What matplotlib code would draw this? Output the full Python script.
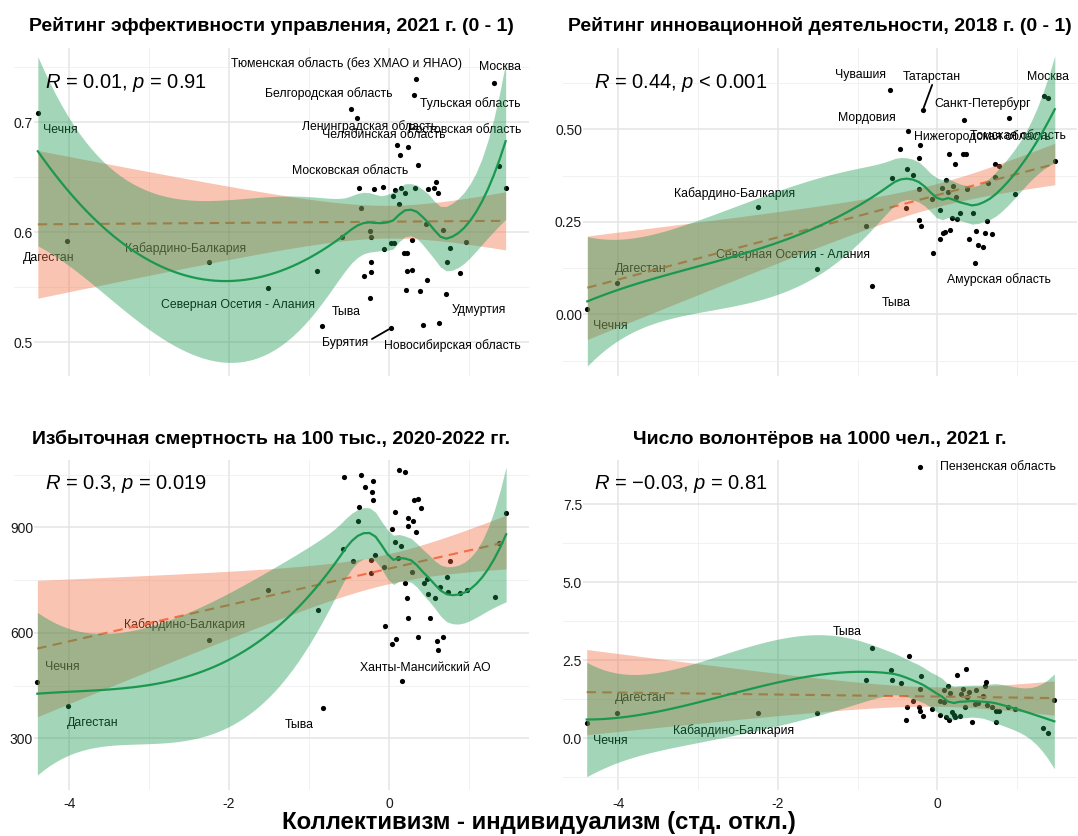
import numpy as np
import matplotlib
matplotlib.use("Agg")
import matplotlib.pyplot as plt
from matplotlib.ticker import FixedLocator, FixedFormatter

plt.rcParams['font.family'] = ['Liberation Sans', 'DejaVu Sans']
plt.rcParams['mathtext.fontset'] = 'custom'
plt.rcParams['mathtext.rm'] = 'Liberation Sans'
plt.rcParams['mathtext.it'] = 'Liberation Sans:italic'

# ---------------- data ----------------
titles = ["Рейтинг эффективности управления, 2021 г. (0 - 1)",
          "Рейтинг инновационной деятельности, 2018 г. (0 - 1)",
          "Избыточная смертность на 100 тыс., 2020-2022 гг.",
          "Число волонтёров на 1000 чел., 2021 г."]
stat_texts = ["$R$ = 0.01, $p$ = 0.91",
              "$R$ = 0.44, $p$ < 0.001",
              "$R$ = 0.3, $p$ = 0.019",
              "$R$ = \u22120.03, $p$ = 0.81"]
x_label = "Коллективизм - индивидуализм (стд. откл.)"

x_gov = [-4.392, -4.021, -2.25, -1.513, 0.343, 0.314, 1.318, -0.475, -0.398, 0.097, 0.233, 0.14,
         0.36, 1.377, 1.458, -0.381, -0.19, -0.076, 0.076, 0.148, 0.195, 0.33, 0.49, 0.564, 0.589,
         0.606, 0.055, 0.119, -0.356, 0.466, 0.669, -0.242, -0.22, -0.589, 0.292, 0.025, 0.059,
         0.966, -0.059, 0.767, 0.186, 0.229, -0.22, 0.72, -0.898, -0.229, 0.229, 0.284, 0.881,
         -0.318, 0.479, 0.212, 0.39, 0.712, -0.233, -0.835, 0.025, 0.428, 0.623]
y_gov = [0.708, 0.592, 0.573, 0.549, 0.7395, 0.7247, 0.7355, 0.7117, 0.7039, 0.6789, 0.6777, 0.6699,
         0.6608, 0.6599, 0.6404, 0.6404, 0.6389, 0.641, 0.6383, 0.6404, 0.6361, 0.6404, 0.6392,
         0.6404, 0.6458, 0.6361, 0.6328, 0.6259, 0.6223, 0.6078, 0.6021, 0.6009, 0.5961, 0.5955,
         0.5931, 0.5907, 0.5901, 0.5916, 0.5852, 0.5861, 0.5813, 0.5813, 0.5726, 0.5726, 0.5651,
         0.5642, 0.5645, 0.5654, 0.5633, 0.5602, 0.5563, 0.5479, 0.5464, 0.5443, 0.5404, 0.5145,
         0.513, 0.5154, 0.5172]

x_inn = [-4.385, -4.008, -2.244, -1.508, -0.894, -0.815, -0.587, -0.183, 0.34, 0.894, 1.332, 1.391,
         -0.362, -0.217, -0.468, -0.234, 0.149, 0.319, 0.353, 0.226, 0.723, 0.774, 1.472, -0.383,
         -0.306, -0.57, 0.111, 0.728, -0.226, 0.064, 0.2, 0.132, 0.366, 0.63, 0.234, -0.064, 0.979,
         -0.391, 0.034, 0.289, 0.443, 0.187, 0.243, -0.234, -0.209, 0.617, 0.485, 0.6, 0.681, 0.077,
         0.098, 0.157, 0.034, 0.391, 0.506, 0.57, -0.06, 0.472]
y_inn = [0.0135, 0.0856, 0.2892, 0.1216, 0.2383, 0.0773, 0.607, 0.5513, 0.526, 0.5306, 0.589, 0.5845,
         0.4946, 0.4586, 0.4469, 0.4236, 0.4344, 0.4326, 0.4326, 0.4065, 0.4065, 0.4002, 0.4137,
         0.3921, 0.3777, 0.3687, 0.3633, 0.3714, 0.3381, 0.3417, 0.3462, 0.33, 0.3381, 0.3552,
         0.3174, 0.3129, 0.3246, 0.286, 0.2806, 0.2734, 0.2734, 0.2608, 0.2563, 0.2536, 0.2383,
         0.2527, 0.2248, 0.2203, 0.2167, 0.2194, 0.2221, 0.2266, 0.2041, 0.2032, 0.1871, 0.1826,
         0.1646, 0.1385]

x_mort = [-4.398, -4.013, -2.249, -1.514, -0.822, 0.126, 0.197, -0.565, -0.351, -0.205, -0.305,
          -0.213, -0.205, 0.318, 0.368, 0.397, -0.372, 0.071, 0.243, 0.297, 0.234, -0.389, 0.042,
          0.339, 0.079, 0.151, -0.577, -0.172, -0.456, -0.23, 0.113, 0.766, -0.063, -0.222, 0.293,
          1.372, 1.464, 0.205, 0.435, 0.469, 0.72, 0.636, 0.485, 0.569, 0.732, 0.891, 0.971, 1.326,
          0.226, -0.883, 0.243, 0.506, -0.054, 0.356, 0.678, 0.088, 0.033, 0.598, 0.611, 0.163]
y_mort = [459, 393, 580, 723, 386, 1062, 1056, 1042, 1049, 1033, 1016, 1001, 978, 977, 980, 954,
          958, 944, 926, 917, 903, 917, 896, 887, 858, 848, 837, 820, 803, 808, 812, 804, 788, 770,
          772, 856, 942, 743, 743, 753, 759, 730, 711, 698, 715, 712, 723, 703, 698, 664, 641, 643,
          619, 589, 588, 582, 568, 577, 551, 462]

x_vol = [-0.211, -4.393, -4.014, -2.248, -1.512, -0.824, -0.349, 0.361, 0.244, -0.58, -0.206, -0.891,
         -0.563, -0.458, 0.613, 0.601, 0.13, -0.223, 0.084, 0.324, 0.487, 0.16, 0.298, 0.403, 0.567,
         0.378, -0.307, 0.029, 0.08, 0.471, 0.508, 0.626, 0.689, -0.374, -0.231, 0.345, 0.891, 0.971,
         1.466, -0.063, -0.214, 0.735, 0.773, 0.185, -0.176, 0.038, 0.206, 0.29, 0.113, 0.227, 0.151,
         -0.387, 0.437, 0.731, 1.324, 1.382]
y_vol = [8.707, 0.481, 0.801, 0.801, 0.823, 2.904, 2.638, 2.223, 2.021, 2.18, 1.989, 1.872, 1.862,
         1.787, 1.819, 1.691, 1.681, 1.596, 1.564, 1.585, 1.553, 1.457, 1.426, 1.489, 1.362, 1.309,
         1.191, 1.191, 1.149, 1.106, 1.117, 1.074, 0.989, 0.989, 0.989, 0.989, 0.989, 0.936, 1.223,
         0.936, 0.883, 0.883, 0.862, 0.851, 0.713, 0.745, 0.745, 0.713, 0.681, 0.67, 0.585, 0.574,
         0.521, 0.511, 0.34, 0.16]

# region labels: (name, label x, label y) in data units
labels_gov = [("Тюменская область (без ХМАО и ЯНАО)", -0.532, 0.7538), ("Москва", 1.387, 0.750),
              ("Белгородская область", -0.75, 0.726), ("Тульская область", 1.016, 0.7169),
              ("Ленинградская область", -0.249, 0.6964), ("Челябинская область", -0.061, 0.6882),
              ("Ростовская область", 0.951, 0.6927), ("Московская область", -0.488, 0.6559),
              ("Чечня", -4.108, 0.6927), ("Дагестан", -4.26, 0.5764),
              ("Кабардино-Балкария", -2.547, 0.5855), ("Северная Осетия - Алания", -1.884, 0.5335),
              ("Тыва", -0.532, 0.5275), ("Бурятия", -0.554, 0.4994),
              ("Новосибирская область", 0.798, 0.4973), ("Удмуртия", 1.125, 0.5296)]
labels_inn = [("Чувашия", -0.962, 0.6468), ("Татарстан", -0.065, 0.6423), ("Москва", 1.386, 0.6423),
              ("Санкт-Петербург", 0.572, 0.5703), ("Мордовия", -0.888, 0.5315),
              ("Нижегородская область", 0.566, 0.481), ("Томская область", 1.01, 0.481),
              ("Кабардино-Балкария", -2.543, 0.327), ("Северная Осетия - Алания", -1.807, 0.1604),
              ("Дагестан", -3.717, 0.1234), ("Чечня", -4.094, -0.0306), ("Тыва", -0.52, 0.0315),
              ("Амурская область", 0.767, 0.0928)]
labels_mort = [("Кабардино-Балкария", -2.56, 624), ("Чечня", -4.086, 502), ("Дагестан", -3.71, 344),
               ("Тыва", -1.124, 337), ("Ханты-Мансийский АО", 0.454, 501)]
labels_vol = [("Пензенская область", 0.756, 8.707), ("Тыва", -1.128, 3.397),
              ("Дагестан", -3.712, 1.282), ("Кабардино-Балкария", -2.558, 0.246),
              ("Чечня", -4.091, -0.085)]
# leader segments: (start x, start y, index of the point)
leaders_gov = [(-0.214, 0.503, 56)]
leaders_inn = [(-0.065, 0.62, 7)]

y_ticks = [[0.5, 0.6, 0.7], [0.0, 0.25, 0.5], [300, 600, 900], [0.0, 2.5, 5.0, 7.5]]
y_ticklabels = [["0.5", "0.6", "0.7"], ["0.00", "0.25", "0.50"], ["300", "600", "900"],
                ["0.0", "2.5", "5.0", "7.5"]]
y_minor = [[0.55, 0.65, 0.75], [-0.125, 0.125, 0.375, 0.625], [450, 750, 1050],
           [-1.25, 1.25, 3.75, 6.25]]
x_ticks = [-4, -2, 0]
x_ticklabels = ["-4", "-2", "0"]
x_minor = [-3, -1, 1]

# ---------------- statistics ----------------
def t975(df):
    z = 1.959963985
    g1 = (z**3 + z) / 4
    g2 = (5*z**5 + 16*z**3 + 3*z) / 96
    g3 = (3*z**7 + 19*z**5 + 17*z**3 - 15*z) / 384
    return z + g1/df + g2/df**2 + g3/df**3


def loess(x, y, xg, span=0.75, cell=0.2):
    """Local quadratic loess with kd-tree vertices and cubic Hermite interpolation."""
    n = len(x)
    q = int(np.floor(n * span))
    fc = int(np.floor(n * span * cell))

    def local_rows(x0):
        d = np.abs(x - x0)
        h = np.sort(d)[q - 1]
        w = np.clip(1 - (d / h) ** 3, 0, None) ** 3
        X = np.column_stack([np.ones(n), x - x0, (x - x0) ** 2])
        XtW = X.T * w
        B = np.linalg.solve(XtW @ X, XtW)
        return B[0], B[1]

    xs = np.sort(x)
    lo, hi = xs[0], xs[-1]
    mu = 0.005 * max(hi - lo, 1e-10 * max(abs(lo), abs(hi)) + 1e-30)
    verts = [lo - mu, hi + mu]

    def split(pts, vlo, vhi):
        if len(pts) <= fc:
            return
        m = (1 + len(pts)) // 2
        t = pts[m - 1]
        if t <= vlo or t >= vhi:
            return
        verts.append(t)
        split(pts[:m], vlo, t)
        split(pts[m:], t, vhi)

    split(xs, verts[0], verts[1])
    verts = np.array(sorted(verts))
    V0, V1 = [], []
    for v in verts:
        a, b = local_rows(v)
        V0.append(a)
        V1.append(b)
    V0 = np.array(V0)
    V1 = np.array(V1)

    def op(x0):
        j = np.clip(np.searchsorted(verts, x0) - 1, 0, len(verts) - 2)
        h = verts[j + 1] - verts[j]
        t = (x0 - verts[j]) / h
        h00 = 2*t**3 - 3*t**2 + 1
        h10 = t**3 - 2*t**2 + t
        h01 = -2*t**3 + 3*t**2
        h11 = t**3 - t**2
        return h00*V0[j] + h10*h*V1[j] + h01*V0[j + 1] + h11*h*V1[j + 1]

    L = np.array([op(v) for v in x])
    Rm = np.eye(n) - L
    M = Rm.T @ Rm
    d1 = np.trace(M)
    d2 = np.trace(M @ M)
    res = y - L @ y
    s = np.sqrt(res @ res / d1)
    Lg = np.array([op(v) for v in xg])
    fit = Lg @ y
    se = s * np.sqrt((Lg ** 2).sum(1))
    tq = t975(d1 ** 2 / d2)
    return fit, fit - tq * se, fit + tq * se


def linfit(x, y, xg):
    n = len(x)
    xm = x.mean()
    sxx = ((x - xm) ** 2).sum()
    b = ((x - xm) * (y - y.mean())).sum() / sxx
    a = y.mean() - b * xm
    res = y - (a + b * x)
    s = np.sqrt(res @ res / (n - 2))
    fit = a + b * xg
    se = s * np.sqrt(1 / n + (xg - xm) ** 2 / sxx)
    tq = t975(n - 2)
    return fit, fit - tq * se, fit + tq * se

# ---------------- figure ----------------
W, H = 1078, 836
fig = plt.figure(figsize=(W / 100, H / 100), dpi=100)

col_left = [14, 563]
col_w = [515, 514]
row_top = [48, 460]
row_bot = [376, 790]
title_base = [31, 444]
ylims = [(0.4694, 0.7675), (-0.1668, 0.7197), (153, 1091.4), (-1.657, 8.92)]
datasets = [(x_gov, y_gov, labels_gov, leaders_gov), (x_inn, y_inn, labels_inn, leaders_inn),
            (x_mort, y_mort, labels_mort, []), (x_vol, y_vol, labels_vol, [])]

RED = '#f46d43'
GREEN = '#1a9850'

for i in range(4):
    r, c = divmod(i, 2)
    left = col_left[c]
    rect = [left / W, 1 - row_bot[r] / H, col_w[c] / W, (row_bot[r] - row_top[r]) / H]
    ax = fig.add_axes(rect)
    ax.set_xlim(-4.69, 1.75)
    ax.set_ylim(*ylims[i])
    for s in ax.spines.values():
        s.set_visible(False)
    ax.xaxis.set_major_locator(FixedLocator(x_ticks))
    ax.xaxis.set_major_formatter(FixedFormatter(x_ticklabels))
    ax.xaxis.set_minor_locator(FixedLocator(x_minor))
    ax.yaxis.set_major_locator(FixedLocator(y_ticks[i]))
    ax.yaxis.set_major_formatter(FixedFormatter(y_ticklabels[i]))
    ax.yaxis.set_minor_locator(FixedLocator(y_minor[i]))
    ax.grid(which='major', color='#e4e4e4', lw=1.1)
    ax.grid(which='minor', color='#efefef', lw=0.6)
    ax.set_axisbelow(True)
    ax.tick_params(which='both', length=0)
    ax.tick_params(axis='y', pad=-13.7, labelsize=10, labelcolor='#1a1a1a')
    ax.tick_params(axis='x', pad=5, labelsize=10, labelcolor='#1a1a1a', labelbottom=(r == 1))
    for lab in ax.get_yticklabels():
        lab.set_bbox(dict(facecolor='white', edgecolor='none', pad=1.0))

    xs, ys, labs, leads = datasets[i]
    xa = np.asarray(xs, float)
    ya = np.asarray(ys, float)
    ax.scatter(xa, ya, s=14, c='black', lw=0, zorder=2)
    for name, lx, ly in labs:
        ax.text(lx, ly, name, fontsize=8.8, ha='center', va='center', color='black', zorder=2)
    for sx, sy, k in leads:
        ax.annotate('', xy=(xa[k], ya[k]), xytext=(sx, sy),
                    arrowprops=dict(arrowstyle='-', color='black', lw=1.3, shrinkA=0, shrinkB=2),
                    zorder=2)

    xg = np.linspace(xa.min(), xa.max(), 80)
    lf, llo, lhi = linfit(xa, ya, xg)
    ax.fill_between(xg, llo, lhi, color=RED, alpha=0.4, lw=0, zorder=3)
    ax.plot(xg, lf, color=RED, lw=1.5, ls=(0, (4.5, 3)), zorder=4)
    gf, glo, ghi = loess(xa, ya, xg)
    ax.fill_between(xg, glo, ghi, color=GREEN, alpha=0.4, lw=0, zorder=5)
    ax.plot(xg, gf, color=GREEN, lw=1.6, zorder=6)

    ax.text(0.06, 0.894 if r == 0 else 0.927, stat_texts[i], transform=ax.transAxes,
            fontsize=14.5, ha='left', va='center', zorder=7)

    fig.text((left + col_w[c] / 2) / W, 1 - title_base[r] / H, titles[i],
             fontsize=14, fontweight='bold', ha='center', va='baseline')

fig.text(0.5, 1 - 822 / H, x_label, fontsize=17.3, fontweight='bold', ha='center', va='center')

fig.savefig("out.png", dpi=100)
